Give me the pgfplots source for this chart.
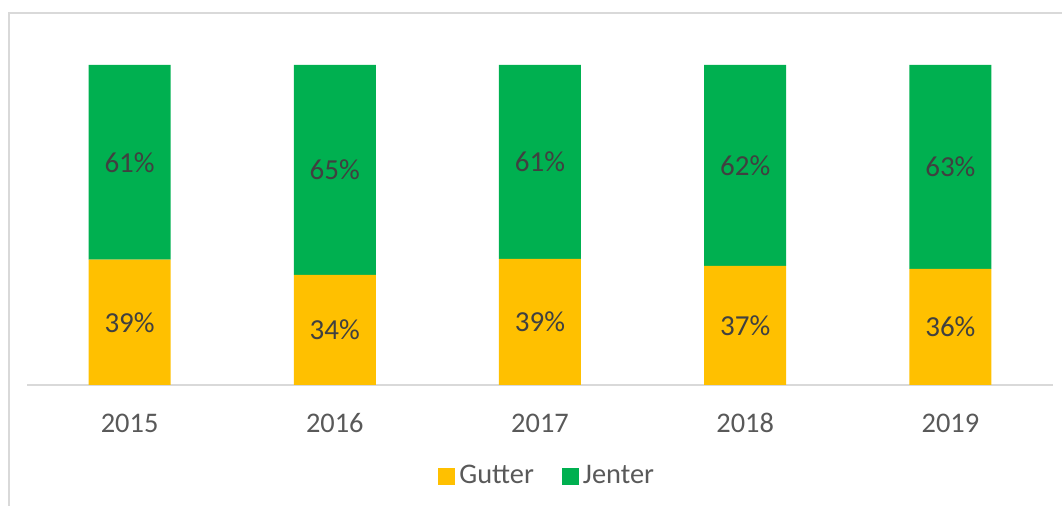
\documentclass[border=0pt]{standalone}
\usepackage{pgfplots}
\pgfplotsset{compat=1.18}
\usepackage{fontspec}
\setmainfont{Carlito}
\definecolor{gul}{HTML}{FFC000}
\definecolor{gronn}{HTML}{00B050}
\definecolor{lbl}{HTML}{404040}
\definecolor{tck}{HTML}{595959}
\definecolor{grid}{HTML}{D9D9D9}
\begin{document}
\begin{tikzpicture}
\useasboundingbox (0,0) rectangle (531pt,253pt);
\draw[grid, line width=0.75pt] (4.5pt,0pt) -- (4.5pt,246.5pt) -- (531pt,246.5pt);
\begin{axis}[
  at={(13.5pt,60.5pt)}, anchor=south west,
  scale only axis, width=513pt, height=160pt,
  ybar stacked, bar width=41pt,
  xmin=-0.5, xmax=4.5, ymin=0, ymax=100,
  axis line style={draw=none},
  ytick=\empty, xtick={0,1,2,3,4},
  xticklabels={2015,2016,2017,2018,2019},
  major tick length=0pt,
  xticklabel style={font=\fontsize{14.2}{16}\selectfont, text=tck, anchor=base, yshift=-24pt},
  point meta=explicit symbolic,
  nodes near coords={\pgfplotspointmeta},
  every node near coord/.append style={anchor=center, font=\fontsize{14.5}{16}\selectfont, text=lbl},
  legend columns=2,
  legend style={at={(0.508,-0.285)}, anchor=center, draw=none, fill=none,
    font=\fontsize{14.2}{16}\selectfont, text=tck,
    /tikz/every even column/.append style={column sep=12pt}},
  legend image code/.code={\fill[#1] (0pt,-4.25pt) rectangle (8.5pt,4.25pt);},
  clip=false,
]
\addplot[fill=gul, draw=none] coordinates {(0,39.2) [39\%] (1,34.4) [34\%] (2,39.4) [39\%] (3,37.2) [37\%] (4,36.3) [36\%]};
\addplot[fill=gronn, draw=none] coordinates {(0,60.8) [61\%] (1,65.6) [65\%] (2,60.6) [61\%] (3,62.8) [62\%] (4,63.7) [63\%]};
\legend{Gutter, Jenter}
\draw[grid, line width=0.75pt] (axis cs:-0.5,0) -- (axis cs:4.5,0);
\end{axis}
\end{tikzpicture}
\end{document}
